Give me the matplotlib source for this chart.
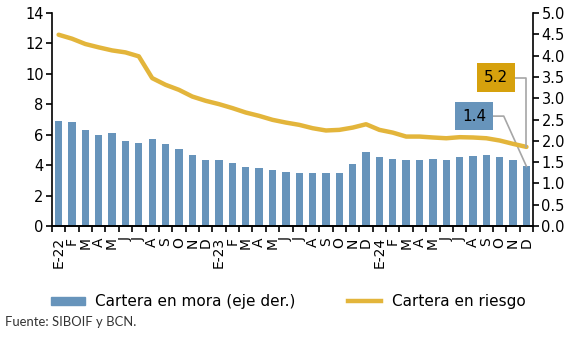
import matplotlib.pyplot as plt
import numpy as np
from matplotlib.patches import Patch
from matplotlib.lines import Line2D

# meses E-22 .. D-24
meses = ["E-22", "F", "M", "A", "M", "J", "J", "A", "S", "O", "N", "D",
         "E-23", "F", "M", "A", "M", "J", "J", "A", "S", "O", "N", "D",
         "E-24", "F", "M", "A", "M", "J", "J", "A", "S", "O", "N", "D"]

# cartera en mora (eje derecho, %)
mora = [2.47, 2.45, 2.26, 2.13, 2.19, 1.99, 1.94, 2.04, 1.92, 1.81, 1.67, 1.54,
        1.56, 1.47, 1.38, 1.36, 1.32, 1.27, 1.24, 1.24, 1.24, 1.24, 1.45, 1.74,
        1.61, 1.58, 1.56, 1.56, 1.58, 1.56, 1.63, 1.65, 1.67, 1.61, 1.56, 1.4]

# cartera en riesgo (eje izquierdo, %)
riesgo = [12.57, 12.31, 11.96, 11.74, 11.54, 11.41, 11.15, 9.72, 9.28, 8.95, 8.51, 8.23,
          8.01, 7.75, 7.46, 7.24, 6.98, 6.80, 6.65, 6.43, 6.28, 6.32, 6.47, 6.69,
          6.32, 6.14, 5.88, 5.88, 5.82, 5.77, 5.84, 5.82, 5.77, 5.62, 5.40, 5.2]

azul = "#6794bb"
oro = "#e3b53b"
oro_box = "#d6a10d"
gris = "#a6a6a6"

plt.rcParams["font.family"] = ["DejaVu Sans"]

fig = plt.figure(figsize=(5.77, 3.41), dpi=100)
ax = fig.add_axes([0.090, 0.337, 0.834, 0.625])
ax2 = ax.twinx()

x = np.arange(len(meses))
ax2.bar(x, mora, width=0.55, color=azul, zorder=1)
ax.plot(x, riesgo, color=oro, lw=3.2, solid_capstyle="round", zorder=3)
ax.set_zorder(ax2.get_zorder() + 1)
ax.patch.set_visible(False)

ax.set_xlim(-0.5, len(meses) - 0.5)
ax.set_ylim(0, 14)
ax.set_yticks(range(0, 15, 2))
ax2.set_ylim(0, 5)
ax2.set_yticks(np.arange(0, 5.01, 0.5))
ax2.set_yticklabels([f"{v:.1f}" for v in np.arange(0, 5.01, 0.5)])

# ticks between bars, labels at bar centres
ax.set_xticks(np.arange(-0.5, len(meses), 1))
ax.set_xticklabels([])
ax.set_xticks(x, minor=True)
ax.set_xticklabels(meses, minor=True, rotation=90, fontsize=10)
ax.tick_params(axis="x", which="major", length=4, width=1.2, direction="out")
ax.tick_params(axis="x", which="minor", length=0, pad=8)

for a in (ax, ax2):
    a.tick_params(axis="y", labelsize=10.5, length=4, width=1.2, pad=2)
    a.spines["top"].set_visible(False)
    for s in ("left", "right", "bottom"):
        a.spines[s].set_linewidth(1.2)
ax.spines["right"].set_visible(False)
ax2.spines["left"].set_visible(False)

n = len(meses) - 1

# etiqueta del último valor de cartera en riesgo
bx, by = 32.7, 9.75
ax.text(bx, by, f"{riesgo[-1]:.1f}", fontsize=11, ha="center", va="center",
        bbox=dict(boxstyle="square,pad=0.45", fc=oro_box, ec="none"), zorder=6)
ax.plot([bx + 1.3, n, n], [by, by, riesgo[-1]], color=gris, lw=1.2,
        clip_on=False, zorder=5)

# etiqueta del último valor de cartera en mora
cx, cy = 31.1, 2.58
ax2.text(cx, cy, f"{mora[-1]:.1f}", fontsize=11, ha="center", va="center",
         bbox=dict(boxstyle="square,pad=0.45", fc=azul, ec="none"), zorder=6)
ax2.plot([cx + 1.3, 33.3, n], [cy, cy, mora[-1]], color=gris, lw=1.2,
         clip_on=False, zorder=5)

# legend
handles = [Patch(color=azul), Line2D([0], [0], color=oro, lw=3.2)]
fig.legend(handles, ["Cartera en mora (eje der.)", "Cartera en riesgo"],
           loc="center", bbox_to_anchor=(0.500, 0.115), ncol=2, frameon=False,
           fontsize=11, handlelength=2.2, handleheight=0.5, columnspacing=3.4,
           handletextpad=0.7)

fig.text(0.008, 0.055, "Fuente: SIBOIF y BCN.", fontsize=9.4, family="Lato",
         color="#333333", va="center")

fig.savefig("out.png", dpi=100)
